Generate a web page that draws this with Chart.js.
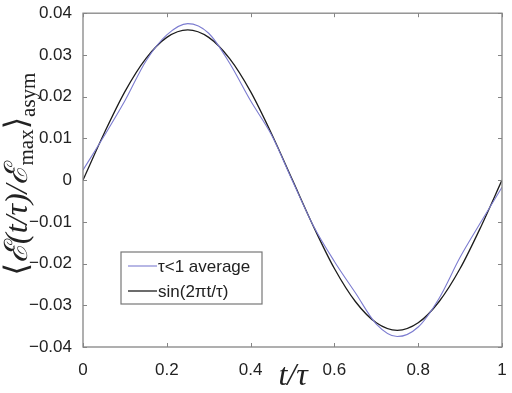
<!DOCTYPE html>
<html>
<head>
<meta charset="utf-8">
<script src="https://cdn.jsdelivr.net/npm/chart.js@4.4.0/dist/chart.umd.min.js"></script>
<style>
  body { margin: 0; background: #fff; }
  canvas { display: block; }
</style>
</head>
<body>
<canvas id="plot" width="512" height="393"></canvas>
<script>
// values
const tValues = [0, 0.05, 0.1, 0.15, 0.2, 0.25, 0.3, 0.35, 0.4, 0.45, 0.5,
                 0.55, 0.6, 0.65, 0.7, 0.75, 0.8, 0.85, 0.9, 0.95, 1];
const averageValues = [0.0024, 0.0105, 0.0190, 0.0285, 0.0348, 0.0375, 0.0352, 0.0280, 0.0190, 0.0108, -0.0002,
                       -0.0110, -0.0195, -0.0270, -0.0345, -0.0375, -0.0352, -0.0283, -0.0185, -0.0100, -0.0017];
const sineValues = [0, 0.0111, 0.0212, 0.0291, 0.0342, 0.0360, 0.0342, 0.0291, 0.0212, 0.0111, 0,
                    -0.0111, -0.0212, -0.0291, -0.0342, -0.0360, -0.0342, -0.0291, -0.0212, -0.0111, 0];
const xTicks = [0, 0.2, 0.4, 0.6, 0.8, 1];
const yTicks = [-0.04, -0.03, -0.02, -0.01, 0, 0.01, 0.02, 0.03, 0.04];
const seriesLabels = ['τ<1 average', 'sin(2πt/τ)'];

const tickFont = { family: "'Liberation Sans', Arial, sans-serif", size: 17 };

function points(ys) {
    return tValues.map((t, i) => ({ x: t, y: ys[i] }));
}

function fmt(v) {
    if (Math.abs(v) < 1e-9) return '0';
    let s = Number(v.toFixed(2)).toString();
    return s.replace('-', '\u2212');
}

// matlab style box, inward ticks, legend and axis titles
const decorations = {
    id: 'decorations',
    afterDatasetsDraw(chart) {
        const c = chart.ctx;
        const a = chart.chartArea;
        const xs = chart.scales.x, ys = chart.scales.y;
        c.save();
        c.strokeStyle = '#858585';
        c.lineWidth = 1.3;
        c.strokeRect(a.left, a.top, a.right - a.left, a.bottom - a.top);
        c.lineWidth = 1;
        c.beginPath();
        xTicks.forEach(v => {
            const px = Math.round(xs.getPixelForValue(v)) + 0.5;
            c.moveTo(px, a.bottom); c.lineTo(px, a.bottom - 4);
            c.moveTo(px, a.top); c.lineTo(px, a.top + 4);
        });
        yTicks.forEach(v => {
            const py = Math.round(ys.getPixelForValue(v)) + 0.5;
            c.moveTo(a.left, py); c.lineTo(a.left + 4, py);
            c.moveTo(a.right, py); c.lineTo(a.right - 4, py);
        });
        c.stroke();

        // legend
        const lx = 121, ly = 252, lw = 141, lh = 52;
        c.fillStyle = '#fff';
        c.fillRect(lx, ly, lw, lh);
        c.strokeStyle = '#777';
        c.lineWidth = 1.2;
        c.strokeRect(lx, ly, lw, lh);
        chart.data.datasets.forEach((ds, i) => {
            const yy = ly + 14 + i * 25;
            c.strokeStyle = ds.borderColor;
            c.lineWidth = ds.borderWidth;
            c.beginPath();
            c.moveTo(lx + 7, yy); c.lineTo(lx + 36, yy);
            c.stroke();
            c.fillStyle = '#222';
            c.font = "17px 'Liberation Sans', Arial, sans-serif";
            c.textBaseline = 'middle';
            c.textAlign = 'left';
            c.fillText(ds.label, lx + 37, yy + 1);
        });

        // x title
        c.fillStyle = '#222';
        c.font = "italic 32px 'Liberation Serif', 'DejaVu Serif', serif";
        c.textAlign = 'center';
        c.textBaseline = 'alphabetic';
        c.fillText('t/τ', 293, 385);

        // y title with subscripts
        const main = "italic 32px 'Liberation Serif', 'DejaVu Serif', serif";
        const plain = "32px 'Liberation Serif', 'DejaVu Serif', serif";
        const sub = "21px 'Liberation Serif', 'DejaVu Serif', serif";
        const parts = [
            { t: '⟨', f: plain, dy: 0 },
            { t: 'ℰ', f: main, dy: 0 },
            { t: '(t/τ)/', f: main, dy: 0 },
            { t: 'ℰ', f: main, dy: 0 },
            { t: 'max', f: sub, dy: 6 },
            { t: '⟩', f: plain, dy: 0 },
            { t: 'asym', f: sub, dy: 8 }
        ];
        let total = 0;
        parts.forEach(p => { c.font = p.f; p.w = c.measureText(p.t).width; total += p.w; });
        c.translate(27, 174);
        c.rotate(-Math.PI / 2);
        c.textAlign = 'left';
        let x = -total / 2;
        parts.forEach(p => {
            c.font = p.f;
            c.fillText(p.t, x, p.dy);
            x += p.w;
        });
        c.restore();
    }
};

new Chart(document.getElementById('plot').getContext('2d'), {
    type: 'line',
    data: {
        datasets: [{
            label: seriesLabels[0],
            data: points(averageValues),
            borderColor: '#7c7cd0',
            borderWidth: 1.1,
            pointRadius: 0,
            cubicInterpolationMode: 'monotone'
        }, {
            label: seriesLabels[1],
            data: points(sineValues),
            borderColor: '#1c1c1c',
            borderWidth: 1.3,
            pointRadius: 0,
            cubicInterpolationMode: 'monotone'
        }]
    },
    options: {
        responsive: false,
        animation: false,
        layout: { padding: { left: 0, top: 12, right: 10, bottom: 0 } },
        plugins: { legend: { display: false }, tooltip: { enabled: false } },
        scales: {
            x: {
                type: 'linear', min: 0, max: 1,
                grid: { display: false },
                border: { display: false },
                afterBuildTicks: s => { s.ticks = xTicks.map(v => ({ value: v })); },
                afterFit: s => { s.height = 46; },
                ticks: { font: tickFont, color: '#222', padding: 5, maxRotation: 0, callback: v => fmt(v) }
            },
            y: {
                type: 'linear', min: -0.04, max: 0.04,
                grid: { display: false },
                border: { display: false },
                afterBuildTicks: s => { s.ticks = yTicks.map(v => ({ value: v })); },
                afterFit: s => { s.width = 83; },
                ticks: { font: tickFont, color: '#222', padding: 3, callback: v => fmt(v) }
            }
        }
    },
    plugins: [decorations]
});
</script>
</body>
</html>
